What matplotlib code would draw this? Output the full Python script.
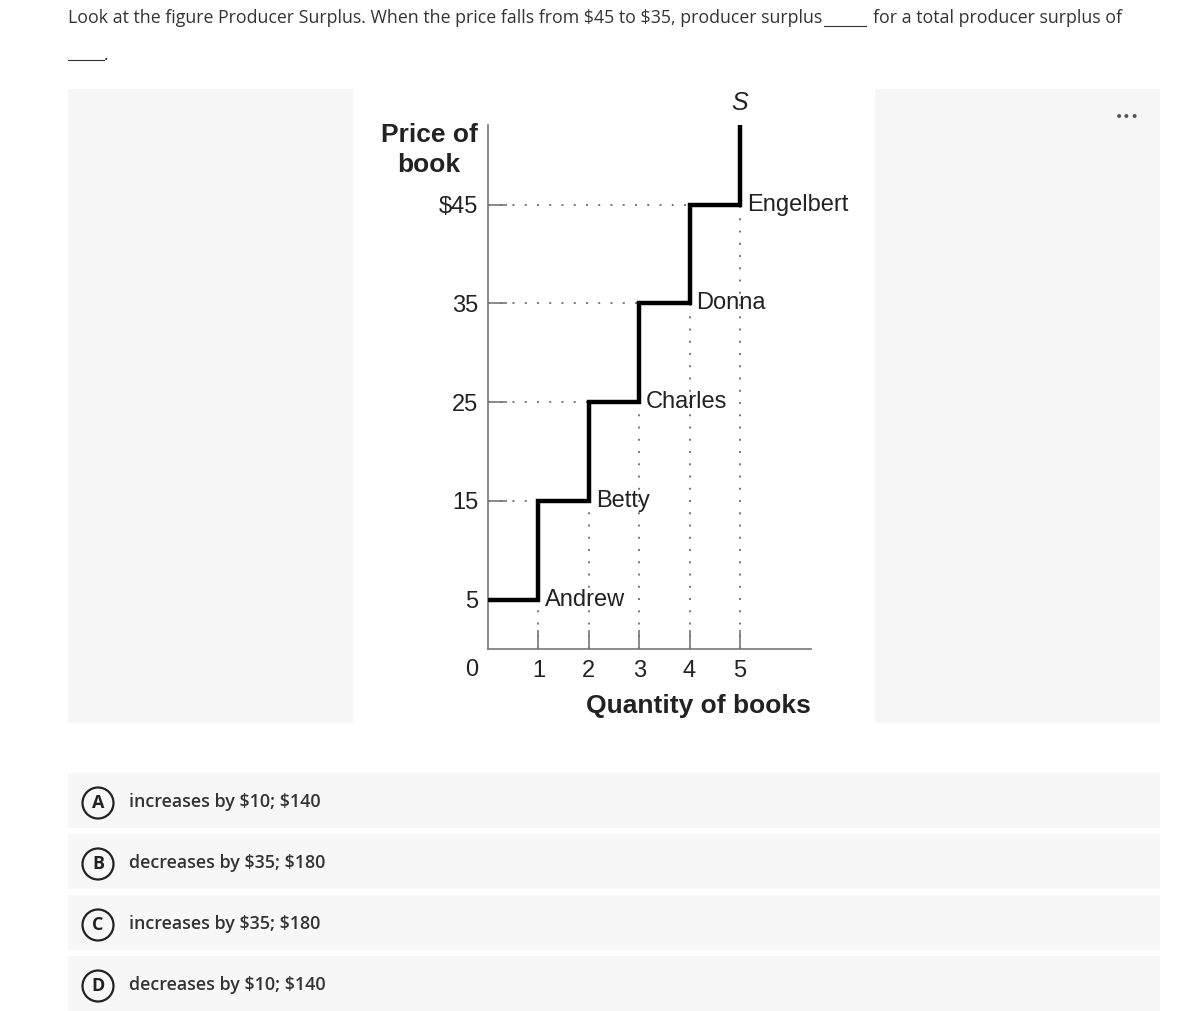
import matplotlib.pyplot as plt
from matplotlib.patches import Rectangle, Circle
from matplotlib.lines import Line2D

plt.rcParams["text.parse_math"] = False

# chart data
sellers = ["Andrew", "Betty", "Charles", "Donna", "Engelbert"]
costs = [5, 15, 25, 35, 45]
quantities = [1, 2, 3, 4, 5]
supply_top = 53
y_ticks = [5, 15, 25, 35, 45]
y_tick_labels = ["5", "15", "25", "35", "$45"]
x_ticks = [1, 2, 3, 4, 5]

question = "Look at the figure Producer Surplus. When the price falls from $45 to $35, producer surplus"
question_end = "for a total producer surplus of"
option_letters = ["A", "B", "C", "D"]
option_texts = ["increases by $10; $140", "decreases by $35; $180",
                "increases by $35; $180", "decreases by $10; $140"]

W, H = 1200, 1011


def fx(x):
    return x / W


def fy(y):
    return 1 - y / H


fig = plt.figure(figsize=(12, 10.11), dpi=100)
fig.patch.set_facecolor("white")

page_font = ["Open Sans", "DejaVu Sans"]
chart_font = ["Liberation Sans", "DejaVu Sans"]

# question text
fig.text(fx(68), fy(18), question, fontsize=12.75, family=page_font,
         color="#333333", va="center", ha="left")
fig.text(fx(873), fy(18), question_end, fontsize=12.75, family=page_font,
         color="#333333", va="center", ha="left")
fig.add_artist(Line2D([fx(824), fx(866)], [fy(26), fy(26)], color="#333333", lw=0.8))
fig.add_artist(Line2D([fx(68), fx(104)], [fy(60), fy(60)], color="#333333", lw=0.8))
fig.text(fx(104), fy(55), ".", fontsize=12.75, family=page_font, color="#333333",
         va="center", ha="left")

# grey side panels
fig.add_artist(Rectangle((fx(68), fy(723)), fx(353) - fx(68), fy(89) - fy(723),
                         transform=fig.transFigure, facecolor="#f6f6f6", edgecolor="none", zorder=0))
fig.add_artist(Rectangle((fx(875), fy(723)), fx(1160) - fx(875), fy(89) - fy(723),
                         transform=fig.transFigure, facecolor="#f6f6f6", edgecolor="none", zorder=0))
fig.text(fx(1127), fy(117), "•••", fontsize=10, color="#555555", ha="center", va="center",
         family=["DejaVu Sans"])

# answer options
for i, (letter, txt) in enumerate(zip(option_letters, option_texts)):
    top = 773 + i * 61
    fig.add_artist(Rectangle((fx(68), fy(top + 55)), fx(1160) - fx(68), fy(top) - fy(top + 55),
                             transform=fig.transFigure, facecolor="#f7f7f7", edgecolor="none", zorder=0))
    cy = top + 30
    fig.add_artist(Circle((98 / 100, (H - cy) / 100), radius=0.155, transform=fig.dpi_scale_trans,
                          facecolor="none", edgecolor="#222222", lw=1.6))
    fig.text(fx(98), fy(cy), letter, fontsize=13, family=page_font, weight="bold",
             color="#222222", ha="center", va="center")
    fig.text(fx(129), fy(top + 29), txt, fontsize=12.85, family=page_font, weight="semibold",
             color="#333333", ha="left", va="center")

# supply chart
ax = fig.add_axes([fx(488), fy(649), fx(811) - fx(488), fy(125) - fy(649)])
ax.set_facecolor("none")
ax.set_xlim(0, 6.41)
ax.set_ylim(0, 53.06)

step_x, step_y = [0], [costs[0]]
for i, c in enumerate(costs):
    step_x += [quantities[i], quantities[i]]
    nxt = costs[i + 1] if i + 1 < len(costs) else supply_top
    step_y += [c, nxt]
ax.plot(step_x, step_y, color="black", lw=3.2, solid_joinstyle="miter", zorder=3)

dot_style = dict(color="#777777", lw=1.4, linestyle=(0, (1, 5.3)), zorder=2)
for i, c in enumerate(costs):
    if i > 0:
        ax.plot([0, i], [c, c], **dot_style)
    ax.plot([quantities[i], quantities[i]], [0, c], **dot_style)
    ax.text(quantities[i] + 0.14, c, sellers[i], fontsize=17, family=chart_font,
            color="#222222", ha="left", va="center", zorder=4)

ax.text(5, 55.3, "S", fontsize=18, family=chart_font, style="italic",
        color="#222222", ha="center", va="center")

for side in ["top", "right"]:
    ax.spines[side].set_visible(False)
for side in ["left", "bottom"]:
    ax.spines[side].set_color("#777777")
    ax.spines[side].set_linewidth(1.2)

ax.set_yticks(y_ticks)
ax.set_yticklabels(y_tick_labels)
ax.set_xticks(x_ticks)
ax.set_xticklabels([str(t) for t in x_ticks])
ax.tick_params(axis="both", direction="in", length=14, width=1.2, color="#777777",
               labelsize=17, labelcolor="#222222")
ax.tick_params(axis="y", pad=7)
ax.tick_params(axis="x", pad=8)
for lab in ax.get_xticklabels() + ax.get_yticklabels():
    lab.set_family(chart_font)
ax.text(-0.33, -1.0, "0", fontsize=17, family=chart_font, color="#222222",
        ha="center", va="top")

fig.text(fx(429), fy(150), "Price of\nbook", fontsize=19, family=chart_font,
         weight="bold", color="#222222", ha="center", va="center", linespacing=1.3)
fig.text(fx(698), fy(706), "Quantity of books", fontsize=19, family=chart_font,
         weight="bold", color="#222222", ha="center", va="center")

fig.savefig("out.png", dpi=100, facecolor="white")
